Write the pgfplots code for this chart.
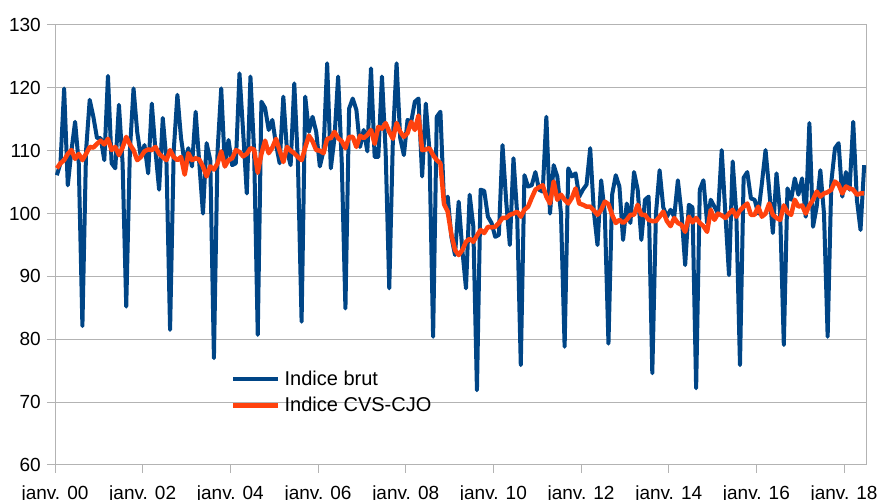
\documentclass[border=0pt]{standalone}
\usepackage{pgfplots}
\usepackage{pgfplotstable}
\pgfplotsset{compat=1.18}
\usepackage{fontspec}
\setmainfont{Liberation Sans}
\definecolor{lobleu}{HTML}{004586}
\definecolor{loorange}{HTML}{FF420E}
\definecolor{gridgray}{HTML}{B3B3B3}
\pgfplotstableread{
x brut cvs
0.5 106.1 107.2
1.5 108 108
2.5 119.9 108.5
3.5 104.5 109.5
4.5 110 110.1
5.5 114.6 108.7
6.5 108 109.5
7.5 82.1 108.5
8.5 110 109.5
9.5 118.1 110.6
10.5 115.4 110.5
11.5 112 111.1
12.5 112 111.6
13.5 108.5 111
14.5 121.9 111.9
15.5 108 110.1
16.5 107.2 110.6
17.5 117.3 109.3
18.5 108 110.5
19.5 85.2 112.2
20.5 110 111
21.5 119.9 110.1
22.5 113 108.5
23.5 109 109
24.5 110.9 109.9
25.5 106.4 110.2
26.5 117.5 110.1
27.5 110 110.6
28.5 103.8 109.5
29.5 115.2 109
30.5 108.5 108.5
31.5 81.5 110.1
32.5 110 109
33.5 118.9 108.5
34.5 112 109
35.5 108 106.2
36.5 110.4 109.6
37.5 107.5 108.5
38.5 116.2 108.8
39.5 108 108.6
40.5 100 107.5
41.5 111.2 105.9
42.5 108.5 107.5
43.5 77 107
44.5 110 108
45.5 119.9 109.9
46.5 107.5 107.5
47.5 111.7 108.5
48.5 107.7 108.8
49.5 108 110.1
50.5 122.3 109.8
51.5 113 109.1
52.5 103.2 109.5
53.5 121.8 110.4
54.5 110 110.2
55.5 80.7 106.5
56.5 117.8 109.5
57.5 116.8 111.6
58.5 113.3 109.6
59.5 114.9 110.5
60.5 111 111.9
61.5 108 110
62.5 118.6 108.2
63.5 110 110.6
64.5 107.7 110
65.5 120.7 109.6
66.5 108 109
67.5 82.8 108.5
68.5 118.6 110.5
69.5 113 112.4
70.5 115.4 111.5
71.5 113 110.1
72.5 107.5 110
73.5 110 109.6
74.5 123.9 111.9
75.5 107.2 112
76.5 112 113
77.5 121.8 112
78.5 108 111.5
79.5 84.9 110.4
80.5 116.7 112.2
81.5 118.3 112.2
82.5 116.5 110.6
83.5 110.6 112.4
84.5 113.3 112
85.5 109.9 112.5
86.5 123.1 113.3
87.5 109 111.1
88.5 109 113.8
89.5 121.8 113.5
90.5 110 114.4
91.5 88.1 113
92.5 112 111.9
93.5 123.9 114.4
94.5 112 113
95.5 109.3 112.2
96.5 114.9 112.8
97.5 114.6 114.6
98.5 117.8 113.3
99.5 118.3 115.6
100.5 105.9 110.1
101.5 117.5 110.2
102.5 110 110.4
103.5 80.4 109.3
104.5 115.4 108.5
105.5 116.2 108
106.5 101.6 101.5
107.5 102.7 100.3
108.5 96.3 96.7
109.5 93.4 94.2
110.5 101.9 93.4
111.5 94.2 94.2
112.5 88.1 95.5
113.5 103 96
114.5 98 95.5
115.5 71.9 96.5
116.5 103.8 97.4
117.5 103.6 96.9
118.5 99.5 97.9
119.5 98.5 97.8
120.5 96.3 97.9
121.5 96.6 98.5
122.5 110.9 99.3
123.5 102 99.3
124.5 95 99.8
125.5 108.8 100
126.5 100 100.3
127.5 75.9 99.5
128.5 106.1 100.6
129.5 104.3 101.1
130.5 104.5 102.5
131.5 106.6 103.8
132.5 103.8 104.2
133.5 103.5 104.5
134.5 115.4 102.7
135.5 100 101.6
136.5 107.7 105.1
137.5 105.9 102.2
138.5 100 103
139.5 78.8 102.2
140.5 107.2 101.6
141.5 105.9 102.5
142.5 106.4 104
143.5 102.7 101.6
144.5 103.8 101.4
145.5 104.6 101.1
146.5 110.4 101.1
147.5 100.3 100.5
148.5 95 99.8
149.5 105.3 100.6
150.5 100 101.9
151.5 79.3 101.5
152.5 103 99.8
153.5 106.1 98.5
154.5 104.3 99
155.5 95.8 98.5
156.5 101.6 99
157.5 98.5 99.8
158.5 106.6 99.8
159.5 103.8 101.4
160.5 95.8 99.8
161.5 102.2 99.8
162.5 102.7 99
163.5 74.6 98.8
164.5 100 98.8
165.5 106.9 99.5
166.5 101 100.3
167.5 99.5 98.8
168.5 100.6 98
169.5 99.5 99.3
170.5 105.3 98.5
171.5 100 98.2
172.5 91.8 97.1
173.5 101.4 99.5
174.5 101 98.6
175.5 72.2 99.3
176.5 103.8 98.5
177.5 105.3 98
178.5 98.5 97.1
179.5 102.2 100.6
180.5 101.1 99
181.5 100 100
182.5 110.1 99.7
183.5 100 99.3
184.5 90.2 100
185.5 108.3 100.6
186.5 100 99.5
187.5 75.9 100.5
188.5 105.7 101.1
189.5 106.6 101.6
190.5 102.4 99.8
191.5 102.2 99.8
192.5 100 101.1
193.5 104.8 99.5
194.5 110.1 100
195.5 103.8 101.6
196.5 96.9 99.8
197.5 106.4 99.3
198.5 100 99
199.5 79.1 101.3
200.5 104 100.2
201.5 102.2 99.8
202.5 105.6 102.2
203.5 103 101.1
204.5 105.6 101.3
205.5 99.5 100
206.5 114.4 101.3
207.5 97.9 102.2
208.5 101.1 103.5
209.5 106.9 102.7
210.5 100 103.2
211.5 80.4 103.4
212.5 105 103.8
213.5 110.4 105.1
214.5 111.2 104.6
215.5 102.7 103.2
216.5 106.6 104.3
217.5 103.8 104
218.5 114.6 103.8
219.5 102.2 103
220.5 97.4 103.2
221.5 107.7 103.2
}\data
\begin{document}
\fontsize{19}{23}\selectfont
\begin{tikzpicture}
\useasboundingbox (0,0) rectangle (883pt,500pt);
\begin{axis}[
  at={(55pt,35pt)}, anchor=south west,
  width=811pt, height=440pt, scale only axis,
  xmin=0, xmax=222, ymin=60, ymax=130,
  xtick={0,24,...,216},
  xticklabels={janv. 00,janv. 02,janv. 04,janv. 06,janv. 08,janv. 10,janv. 12,janv. 14,janv. 16,janv. 18},
  ytick={60,70,...,130},
  /pgf/number format/assume math mode=true,
  ymajorgrids,
  grid style={color=gridgray, line width=1pt},
  axis line style={gridgray, line width=1pt},
  tick style={gridgray, line width=1pt},
  tick align=outside, major tick length=8pt,
  xtick pos=bottom, ytick pos=left,
  xticklabel style={anchor=base, inner sep=0pt, yshift=-26.5pt},
  yticklabel style={anchor=east, inner sep=0pt, xshift=-6pt},
  legend style={draw=none, fill=none, at={(0.2170,0.165)}, anchor=west,
    inner sep=0pt, row sep=9pt, column sep=4pt,
    font=\fontsize{20}{24}\selectfont,
    nodes={inner sep=0pt, anchor=west}},
  legend cell align=left,
  legend image code/.code={\draw[#1] (0pt,0pt) -- (45pt,0pt);},
]
\addplot[lobleu, line width=4pt, line join=round] table[x=x, y=brut] {\data};
\addlegendentry{Indice brut}
\addplot[loorange, line width=4.5pt, line join=round] table[x=x, y=cvs] {\data};
\addlegendentry{Indice CVS-CJO}
\end{axis}
\end{tikzpicture}
\end{document}
